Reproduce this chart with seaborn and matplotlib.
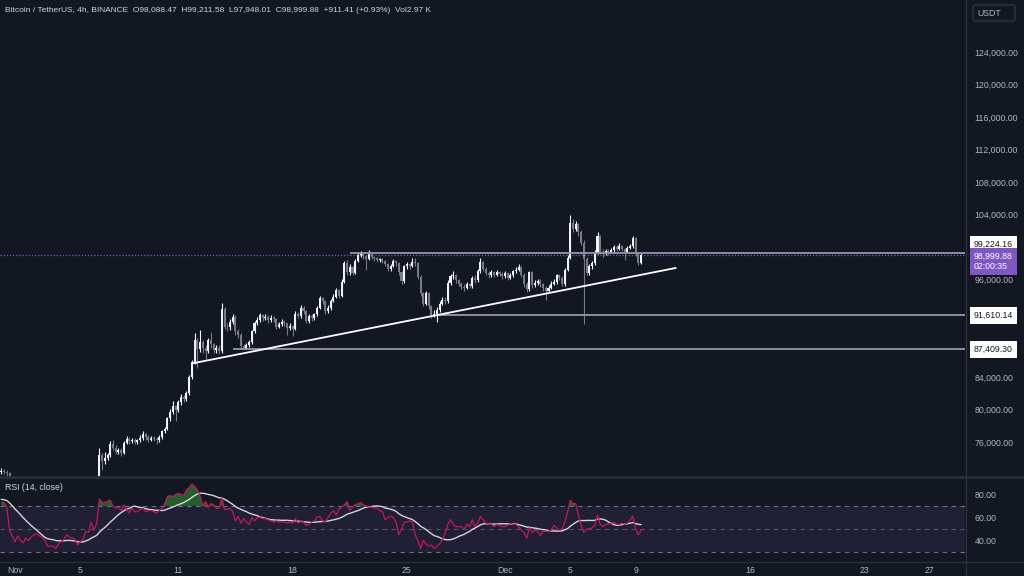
import numpy as np
import pandas as pd
import matplotlib
matplotlib.use("Agg")
import matplotlib.pyplot as plt
import matplotlib.transforms as mtransforms
from matplotlib.lines import Line2D
from matplotlib.patches import FancyBboxPatch
import seaborn as sns

# ==========================
# DATA  (BTC/USDT 4h candles, prices in thousands, first candle 2024-10-31 04:00)
# ==========================

first_candle = "2024-10-31 04:00"
first_open = 72.3

closes = [
    72.4, 72.3, 72.2, 70.9, 70.5, 69.8, 70.6, 70.0, 69.5, 70.3,
    69.9, 70.4, 70.7, 70.8, 70.5, 70.3, 69.7, 69.0, 69.1, 69.2,
    68.6, 69.1, 69.3, 69.5, 69.9, 69.6, 69.4, 69.2, 68.3, 68.7,
    68.9, 69.9, 69.8, 70.9, 70.2, 71.3, 74.4, 73.6, 74.0, 74.4,
    75.8, 75.3, 74.8, 75.0, 74.6, 75.9, 76.4, 76.1, 76.3, 76.0,
    76.2, 76.5, 77.0, 76.6, 76.3, 76.5, 76.4, 76.2, 76.6, 77.3,
    77.6, 78.9, 79.7, 80.4, 79.9, 80.9, 81.5, 81.3, 82.0, 84.0,
    85.8, 88.5, 87.5, 88.3, 87.6, 87.2, 88.5, 88.0, 87.3, 87.6,
    87.2, 92.4, 90.2, 90.1, 90.8, 91.4, 89.6, 89.2, 87.8, 87.5,
    87.9, 88.3, 89.6, 90.6, 91.0, 91.6, 91.2, 91.4, 91.0, 91.3,
    91.1, 90.2, 90.5, 90.8, 90.6, 90.0, 90.3, 89.9, 91.8, 91.5,
    92.5, 92.1, 90.9, 91.5, 91.2, 91.7, 92.5, 93.7, 93.4, 92.1,
    92.5, 93.4, 93.9, 94.7, 94.0, 95.7, 98.0, 96.9, 97.5, 96.8,
    98.3, 99.0, 99.2, 98.9, 98.5, 99.1, 98.8, 98.6, 98.4, 98.5,
    98.3, 97.9, 97.3, 97.7, 98.3, 98.0, 96.9, 95.8, 97.6, 97.9,
    97.7, 98.2, 98.0, 96.3, 94.3, 93.0, 94.3, 92.7, 91.6, 91.8,
    92.3, 93.0, 93.5, 93.3, 95.6, 96.4, 96.5, 95.9, 95.5, 95.1,
    95.0, 95.4, 95.2, 96.2, 95.9, 97.0, 98.2, 97.3, 96.8, 96.5,
    96.9, 96.6, 96.9, 96.7, 96.4, 96.8, 96.2, 96.5, 97.0, 97.2,
    97.5, 96.6, 95.5, 94.8, 96.9, 95.3, 95.6, 95.8, 95.4, 94.9,
    94.6, 95.0, 95.5, 95.7, 96.5, 96.2, 95.5, 97.2, 98.7, 103.0,
    102.2, 102.8, 101.8, 100.5, 98.5, 96.8, 97.6, 98.0, 99.3, 101.4,
    99.4, 99.1, 99.5, 99.3, 99.6, 100.0, 99.8, 100.1, 99.8, 99.4,
    99.9, 100.1, 101.1, 99.2, 98.08847, 98.99988,
]

highs = [
    72.8, 72.7, 72.6, 72.3, 71.2, 70.8, 70.9, 70.8, 70.2, 70.5,
    70.5, 70.6, 71.0, 71.3, 71.0, 70.7, 70.4, 69.9, 69.4, 69.5,
    69.3, 69.3, 69.6, 69.8, 70.2, 70.1, 69.8, 69.6, 69.3, 69.0,
    69.2, 70.2, 70.3, 71.3, 71.0, 71.8, 75.3, 74.6, 74.8, 74.7,
    76.1, 76.2, 75.6, 75.3, 75.2, 76.1, 76.7, 76.6, 76.5, 76.5,
    76.4, 76.8, 77.3, 77.1, 76.8, 76.7, 76.7, 76.6, 76.9, 77.5,
    77.9, 79.1, 80.0, 81.0, 80.6, 81.2, 81.9, 81.8, 82.3, 84.3,
    86.1, 89.4, 88.8, 89.8, 88.6, 87.9, 88.8, 89.5, 88.2, 87.9,
    87.9, 93.1, 92.6, 90.6, 91.1, 91.8, 91.6, 89.9, 89.4, 88.1,
    88.2, 88.6, 89.8, 90.9, 91.4, 91.9, 91.8, 91.7, 91.6, 91.6,
    91.5, 91.3, 90.8, 91.1, 91.0, 90.7, 90.6, 90.4, 92.1, 92.0,
    92.8, 92.7, 92.2, 91.8, 91.7, 91.9, 92.7, 94.0, 93.9, 93.5,
    92.8, 93.6, 94.2, 95.0, 94.8, 96.0, 98.3, 98.4, 97.9, 97.7,
    98.5, 99.2, 99.5, 99.3, 99.0, 99.6, 99.2, 98.9, 98.8, 98.7,
    98.6, 98.4, 98.0, 97.9, 98.5, 98.4, 98.1, 97.0, 97.8, 98.1,
    98.0, 98.6, 98.7, 98.2, 96.5, 94.5, 94.6, 94.4, 92.9, 92.2,
    92.6, 93.3, 93.8, 93.8, 95.9, 96.7, 97.0, 96.7, 96.1, 95.7,
    95.4, 95.7, 95.6, 96.4, 96.6, 97.3, 98.6, 98.3, 97.5, 97.0,
    97.2, 97.1, 97.2, 97.1, 96.9, 97.0, 96.9, 96.8, 97.2, 97.5,
    97.9, 97.6, 96.8, 95.7, 97.1, 97.0, 95.9, 96.1, 96.0, 95.6,
    95.2, 95.3, 95.8, 96.0, 96.7, 96.7, 96.4, 97.4, 99.0, 103.9,
    103.5, 103.2, 103.0, 102.1, 100.8, 98.8, 97.9, 98.3, 99.6, 101.8,
    101.5, 99.7, 99.8, 99.7, 99.9, 100.3, 100.2, 100.5, 100.2, 99.9,
    100.1, 100.4, 101.3, 101.2, 99.3, 99.21158,
]

lows = [
    72.0, 72.0, 71.8, 70.6, 70.2, 69.6, 69.6, 69.8, 69.2, 69.4,
    69.7, 69.7, 70.2, 70.5, 70.2, 70.0, 69.4, 68.7, 68.8, 68.9,
    68.2, 68.4, 68.9, 69.1, 69.3, 69.3, 69.1, 68.9, 67.9, 68.1,
    68.5, 68.8, 69.5, 69.7, 69.9, 70.0, 71.2, 72.6, 73.3, 73.8,
    74.2, 75.0, 74.5, 74.5, 74.3, 74.5, 75.7, 75.8, 75.9, 75.7,
    75.8, 76.0, 76.3, 76.3, 76.0, 76.1, 76.1, 75.8, 76.0, 76.4,
    77.1, 77.5, 78.6, 79.4, 78.6, 79.7, 80.6, 80.9, 81.0, 81.8,
    83.8, 85.6, 85.1, 87.1, 86.9, 86.2, 87.0, 87.6, 86.9, 87.0,
    86.8, 87.0, 89.9, 89.7, 89.8, 90.5, 89.2, 88.8, 87.5, 87.4,
    87.4, 87.7, 88.1, 89.4, 90.4, 90.8, 90.9, 91.0, 90.7, 90.8,
    90.8, 89.9, 90.0, 90.3, 90.3, 89.2, 89.8, 89.0, 89.8, 91.2,
    91.3, 91.8, 90.6, 90.7, 90.9, 91.0, 91.5, 92.4, 93.0, 91.8,
    91.9, 92.3, 93.2, 93.7, 93.7, 93.9, 95.6, 96.5, 96.6, 96.5,
    96.7, 98.1, 98.8, 98.5, 97.2, 98.4, 98.5, 98.3, 98.1, 98.1,
    98.0, 97.6, 97.0, 97.1, 97.5, 97.7, 96.6, 95.5, 95.6, 97.3,
    97.3, 97.5, 97.7, 96.0, 94.0, 92.7, 92.8, 92.4, 91.3, 91.4,
    90.8, 92.0, 92.8, 93.0, 93.1, 95.3, 96.1, 95.6, 95.2, 94.8,
    94.6, 94.8, 94.9, 95.0, 95.6, 95.7, 96.8, 97.0, 96.5, 96.2,
    96.3, 96.3, 96.4, 96.4, 96.1, 96.2, 95.9, 96.0, 96.3, 96.8,
    97.0, 96.3, 95.1, 94.5, 94.6, 95.0, 95.1, 95.3, 95.1, 94.6,
    93.5, 94.4, 94.8, 95.3, 95.5, 95.9, 95.2, 95.2, 97.0, 98.5,
    101.9, 102.0, 101.4, 100.2, 90.5, 96.5, 96.6, 97.3, 97.8, 99.1,
    99.1, 98.8, 99.0, 99.0, 99.2, 99.4, 99.5, 99.6, 99.5, 98.4,
    99.2, 99.7, 99.9, 98.9, 97.8, 97.94801,
]

# RSI(14) per candle, plus a few values from before the first candle for the MA
rsi_warmup = [78, 79, 77, 80, 78, 76, 75, 77, 74, 73, 75, 72, 74]
rsi_values = [
    73, 73, 69, 49, 44, 39, 44, 40, 38, 42,
    40, 43, 45, 46, 44, 43, 40, 35, 35, 35,
    33, 37, 39, 41, 45, 43, 42, 41, 36, 39,
    41, 48, 47, 56, 49, 55, 76, 73, 73, 74,
    75, 70, 68, 69, 66, 71, 67, 64, 68, 65,
    65, 67, 68, 65, 66, 66, 65, 64, 66, 68,
    72, 78, 79, 78, 80, 81, 80, 79, 84, 86,
    89, 87, 84, 79, 70, 74, 69, 72, 71, 68,
    68, 77, 67, 67, 68, 65, 57, 61, 55, 59,
    56, 54, 60, 57, 60, 60, 59, 59, 58, 57,
    56, 57, 56, 56, 56, 55, 56, 55, 59, 55,
    57, 56, 53, 54, 56, 57, 60, 61, 57, 56,
    60, 63.6, 66, 62, 67, 69, 71, 74, 66, 69,
    71, 72, 73, 71, 70, 69, 69, 68, 68, 66,
    65, 58, 60, 61, 60, 56, 45, 50, 56, 56,
    57, 56, 45, 40, 33, 40, 37, 35, 36, 33,
    35, 37, 41, 46, 54, 58, 54, 52, 52, 52,
    50, 54, 52, 58, 52, 55, 61, 58, 55, 54,
    54, 52, 54, 53, 52, 52, 53, 55, 54, 54,
    52, 49, 47, 42, 51, 47, 49, 48, 44, 48,
    48, 48, 49, 53, 51, 49, 50, 56, 65, 75,
    72, 72, 62, 53, 47, 50, 50, 51, 53, 62,
    54, 52, 54, 54, 55, 56, 54, 54, 55, 54,
    55, 58, 61, 50, 45, 49,
]

day_ticks = ["2024-11-01", "2024-11-05", "2024-11-11", "2024-11-18", "2024-11-25",
             "2024-12-01", "2024-12-05", "2024-12-09", "2024-12-16", "2024-12-23",
             "2024-12-27"]
day_labels = ["Nov", "5", "11", "18", "25", "Dec", "5", "9", "16", "23", "27"]

# 100,000 sits behind the last-price labels in the reference, so it is left out
price_ticks = [76000, 80000, 84000, 88000, 92000, 96000,
               104000, 108000, 112000, 116000, 120000, 124000]
rsi_ticks = [40, 60, 80]

level_prices = [99224.16, 91610.14, 87409.30]
level_starts = ["2024-11-21 12:00", "2024-11-26 20:00", "2024-11-14 08:00"]
trend_dates = ["2024-11-11 21:30", "2024-12-11 11:00"]
trend_prices = [85690, 97420]

last_price = 98999.88
countdown = "02:00:35"
header = ("Bitcoin / TetherUS, 4h, BINANCE  O98,088.47  H99,211.58  "
          "L97,948.01  C98,999.88  +911.41 (+0.93%)  Vol2.97 K")

# ==========================
# PREP
# ==========================

t0 = pd.Timestamp(first_candle)
step = pd.Timedelta(hours=4)


def pos(d):
    return (pd.Timestamp(d) - t0) / step


c = np.array(closes) * 1000
h = np.array(highs) * 1000
l = np.array(lows) * 1000
o = np.r_[first_open * 1000, c[:-1]]
h = np.maximum(h, np.maximum(o, c))
l = np.minimum(l, np.minimum(o, c))
idx = np.arange(len(c))

candles = pd.DataFrame({"i": idx, "open": o, "high": h, "low": l, "close": c})
candles["up"] = candles["close"] >= candles["open"]

rsi_all = pd.Series(rsi_warmup + rsi_values, dtype=float)
rsi_ma = rsi_all.rolling(14).mean().to_numpy()[len(rsi_warmup):]
osc = pd.DataFrame({"i": idx, "rsi": rsi_values, "ma": rsi_ma})

# ==========================
# STYLE
# ==========================

BG = "#131722"
SEP = "#2a2e39"
TXT = "#b2b5be"
FS = 6.3

sns.set_theme(style="dark", rc={
    "axes.facecolor": BG, "figure.facecolor": BG,
    "axes.edgecolor": BG, "axes.grid": False,
})
plt.rcParams["font.family"] = ["Liberation Sans", "DejaVu Sans"]

W, H = 1024, 576
fig = plt.figure(figsize=(W / 100, H / 100), dpi=100)
ax = fig.add_axes([0, 1 - 476 / H, 965 / W, 476 / H])
ax2 = fig.add_axes([0, 14 / H, 965 / W, 84 / H])

x_range = (-0.5, 354)

# ==========================
# PRICE PANE
# ==========================

up_col, dn_col = "#f0f3fa", "#787b86"
col = np.where(candles["up"], up_col, dn_col)
ax.vlines(candles["i"], candles["low"], candles["high"], colors=col, lw=0.8, zorder=3)
body = np.maximum((candles["close"] - candles["open"]).abs(), 60)
ax.bar(candles["i"], body, bottom=np.minimum(candles["open"], candles["close"]),
       width=0.75, color=col, lw=0, zorder=4)

ax.axhline(last_price, color="#7e57c2", lw=0.9, ls=(0, (1, 1.5)), zorder=2)

for p, start in zip(level_prices, level_starts):
    ax.hlines(p, pos(start), x_range[1], color="#9598a1", lw=1.3, zorder=5)

ax.plot([pos(d) for d in trend_dates], trend_prices, color="#ffffff", lw=1.3,
        solid_capstyle="round", zorder=6)

ax.set_xlim(*x_range)
ax.set_ylim(71815, 130400)
ax.set_xticks([])
ax.yaxis.tick_right()
ax.set_yticks(price_ticks)
ax.set_yticklabels([f"{v:,.2f}" for v in price_ticks])
ax.tick_params(axis="y", length=0, pad=7, labelsize=FS, labelcolor=TXT)
for s in ax.spines.values():
    s.set_visible(False)

trans = mtransforms.blended_transform_factory(ax.transAxes, ax.transData)
box_x = 1 + 9 / 965
for p, dy in zip(level_prices, [9, 0, 0]):
    ax.annotate(f"{p:,.2f}", xy=(box_x, p), xycoords=trans,
                xytext=(0, dy * 0.72), textcoords="offset points",
                ha="left", va="center", fontsize=FS, color=BG,
                bbox=dict(boxstyle="square,pad=0.45", fc="#ffffff", ec="none"),
                annotation_clip=False, zorder=10)
ax.annotate(f"{last_price:,.2f}\n{countdown}", xy=(box_x, last_price), xycoords=trans,
            xytext=(0, -6 * 0.72), textcoords="offset points",
            ha="left", va="center", fontsize=FS, color="#ffffff", linespacing=1.15,
            bbox=dict(boxstyle="square,pad=0.45", fc="#7e57c2", ec="none"),
            annotation_clip=False, zorder=11)

# ==========================
# RSI PANE
# ==========================

ax2.axhspan(30, 70, color="#7e57c2", alpha=0.13, lw=0, zorder=1)
for v, a in [(70, 0.9), (50, 0.6), (30, 0.9)]:
    ax2.axhline(v, color="#787b86", lw=0.8, ls=(0, (4, 4)), alpha=a, zorder=2)

rsi_arr = osc["rsi"].to_numpy(dtype=float)
ax2.fill_between(osc["i"], 70, rsi_arr, where=rsi_arr > 70, interpolate=True,
                 color="#2e7d32", alpha=0.7, lw=0, zorder=3)
sns.lineplot(data=osc, x="i", y="ma", ax=ax2, color="#d1d4dc", lw=1.0, zorder=4)
sns.lineplot(data=osc, x="i", y="rsi", ax=ax2, color="#c2185b", lw=0.9, zorder=5)

ax2.set_xlim(*x_range)
ax2.set_ylim(21.3, 94.3)
ax2.set_xlabel("")
ax2.set_ylabel("")
ax2.yaxis.tick_right()
ax2.set_yticks(rsi_ticks)
ax2.set_yticklabels([f"{v:.2f}" for v in rsi_ticks])
ax2.tick_params(axis="y", length=0, pad=7, labelsize=FS, labelcolor=TXT)
ax2.set_xticks([pos(d) for d in day_ticks])
ax2.set_xticklabels(day_labels)
ax2.tick_params(axis="x", length=0, pad=3, labelsize=FS, labelcolor=TXT)
for s in ax2.spines.values():
    s.set_visible(False)

ax2.text(5 / 965, 1 - 10 / 84, "RSI (14, close)", transform=ax2.transAxes,
         ha="left", va="center", fontsize=FS, color="#d1d4dc")

# ==========================
# FRAME, HEADER
# ==========================


def fx(px):
    return px / W


def fy(py):
    return 1 - py / H


fig.add_artist(Line2D([fx(965.5), fx(965.5)], [0, 1], color=SEP, lw=1))
fig.add_artist(Line2D([0, 1], [fy(477), fy(477)], color=SEP, lw=2))
fig.add_artist(Line2D([0, 1], [fy(561.5), fy(561.5)], color=SEP, lw=1))

fig.add_artist(FancyBboxPatch((fx(973), fy(21)), fx(42), 16 / H,
                              boxstyle="round,pad=0,rounding_size=0.003",
                              fc=BG, ec="#363a45", lw=0.8, transform=fig.transFigure))
fig.text(fx(977), fy(13), "USDT", ha="left", va="center", fontsize=FS, color=TXT)

fig.text(fx(5), fy(11), header, ha="left", va="center", fontsize=6.0, color="#d1d4dc")

plt.savefig("out.png", dpi=100, facecolor=BG)
